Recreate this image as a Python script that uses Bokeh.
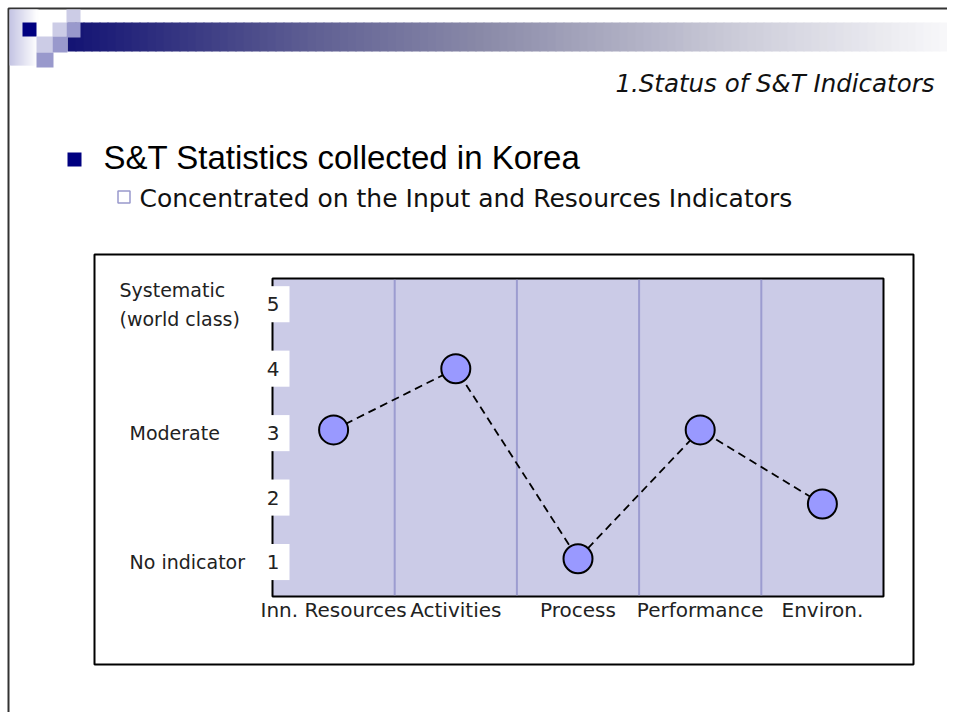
from bokeh.plotting import figure
from bokeh.models import Range1d, FixedTicker, LinearAxis, BoxAnnotation, Label
from bokeh.embed import file_html
from bokeh.resources import INLINE

# ---------------- data ----------------
categories = ["Inn. Resources", "Activities", "Process", "Performance", "Environ."]
scores = [3.05, 4.0, 1.05, 3.05, 1.9]
tick_values = [1, 2, 3, 4, 5]
tick_labels = ["1", "2", "3", "4", "5"]
level_values = [5, 3, 1]
level_labels = ["Systematic\n(world class)", "Moderate", "No indicator"]
page_title = "1.Status of S&T Indicators"
headline = "S&T Statistics collected in Korea"
subline = "Concentrated on the Input and Resources Indicators"

# ---------------- layout (pixel coords of the picture) ----------------
W, H = 947, 712
FL, FR, FT, FB = 272, 883, 278, 596   # chart plot area
NX = len(categories)
Y0, Y1 = 0.465, 5.399                 # value range of the chart plot area

def xd(px):
    return (px - FL) / (FR - FL) * NX

def yd(py):
    return Y1 - (py - FT) / (FB - FT) * (Y1 - Y0)

p = figure(width=W, height=H, output_backend="svg", toolbar_location=None,
           x_range=Range1d(xd(0), xd(W)), y_range=Range1d(yd(H), yd(0)),
           x_axis_location=None, y_axis_location=None, min_border=0,
           background_fill_color="white", border_fill_color="white",
           outline_line_color=None)
p.title.visible = False
p.xgrid.visible = False
p.ygrid.visible = False

# plot area, category separators
p.quad(left=[0], right=[NX], bottom=[Y0], top=[Y1], fill_color="#CBCBE7",
       line_color="black", line_width=2)
edges = list(range(1, NX))
p.segment(x0=edges, y0=[Y0 + 0.02] * len(edges), x1=edges, y1=[Y1 - 0.02] * len(edges),
          line_color="#9C9CD0", line_width=2)

# x axis at the bottom of the plot area (labels only)
xs = [i + 0.5 for i in range(NX)]
xaxis = LinearAxis(fixed_location=yd(FB - 11), ticker=FixedTicker(ticks=xs),
                   major_label_overrides={x: c for x, c in zip(xs, categories)},
                   major_label_text_font="DejaVu Sans", major_label_text_font_size="20px",
                   major_label_text_color="#222222", major_label_standoff=6,
                   axis_line_color=None, major_tick_line_color=None,
                   minor_tick_line_color=None)
p.add_layout(xaxis, "below")

# data marks
p.line(xs, scores, line_color="black", line_width=1.8, line_dash="8 5")
p.scatter(xs, scores, marker="circle", size=29, fill_color="#9999FF",
          line_color="black", line_width=2)

# ---------------- decorations ----------------
def box(x0, x1, y0, y1, fill=None, line=None, lw=0):
    p.add_layout(BoxAnnotation(left=xd(x0), right=xd(x1), top=yd(y0), bottom=yd(y1),
                               fill_color=fill if fill else "white",
                               fill_alpha=1 if fill else 0,
                               line_color=line, line_alpha=1, line_width=lw,
                               level="annotation"))

def lerp_color(stops, t):
    for (t0, c0), (t1, c1) in zip(stops[:-1], stops[1:]):
        if t0 <= t <= t1:
            f = (t - t0) / (t1 - t0) if t1 > t0 else 0
            return "#%02x%02x%02x" % tuple(int(round(a + (b - a) * f)) for a, b in zip(c0, c1))
    return "#%02x%02x%02x" % stops[-1][1]

# slide border
box(8, 1400, 8, 1400, line="#333333", lw=2)

# header gradient bar
bar_stops = [(0.0, (20, 20, 116)), (0.28, (98, 98, 148)), (0.46, (138, 138, 168)),
             (0.75, (205, 205, 218)), (1.0, (252, 252, 253))]
bx0, bx1, step = 67, 963, 8
x = bx0
while x < bx1:
    box(x, x + step + 1, 22, 51, fill=lerp_color(bar_stops, (x - bx0) / (bx1 - bx0)))
    x += step

# top-left fading block
blk_stops = [(0.0, (198, 198, 228)), (1.0, (255, 255, 255))]
x = 9
while x < 36:
    box(x, x + 3, 9, 65, fill=lerp_color(blk_stops, (x - 9) / 27))
    x += 2

# small squares
for (x0, x1, y0, y1, c) in [
        (22, 36, 22, 36, "#000080"),
        (66, 80, 9, 22, "#CCCCE6"),
        (52, 66, 22, 36, "#CCCCE6"),
        (66, 80, 22, 37, "#9999CC"),
        (36, 52, 36, 52, "#CCCCE6"),
        (52, 67, 36, 52, "#9999CC"),
        (36, 53, 52, 67, "#9999CC")]:
    box(x0, x1, y0, y1, fill=c)

# bullets
box(67, 81, 152, 166, fill="#000080")
box(117.5, 129.5, 190.5, 202.5, line="#9999CC", lw=1.5)

# chart outer box
box(94, 913, 254, 664, line="black", lw=2)

# white boxes behind y tick labels
for v in tick_values:
    p.add_layout(BoxAnnotation(left=xd(266), right=xd(289), bottom=v - 0.28, top=v + 0.28,
                               fill_color="white", fill_alpha=1, line_color=None,
                               level="annotation"))

def label(x, y, text, size, font="DejaVu Sans", align="left", style="normal",
          color="#1a1a1a", lh=1.2):
    p.add_layout(Label(x=x, y=y, text=text, text_font=font, text_font_size=size,
                       text_align=align, text_baseline="middle", text_font_style=style,
                       text_color=color, text_line_height=lh))

for v, t in zip(tick_values, tick_labels):
    label(xd(272.5), v, t, "20px", align="center", color="#222222")

for v, t in zip(level_values, level_labels):
    lx = 119 if "\n" in t else 129
    label(xd(lx), v, t, "19px", color="#222222", lh=1.3)

# texts
label(xd(934), yd(83), page_title, "24.5px", align="right", style="italic", color="#111111")
label(xd(103), yd(157), headline, "33px", font="Liberation Sans", color="black")
label(xd(139), yd(198), subline, "25px", color="#111111")

open("out.html", "w").write(file_html(p, INLINE))
